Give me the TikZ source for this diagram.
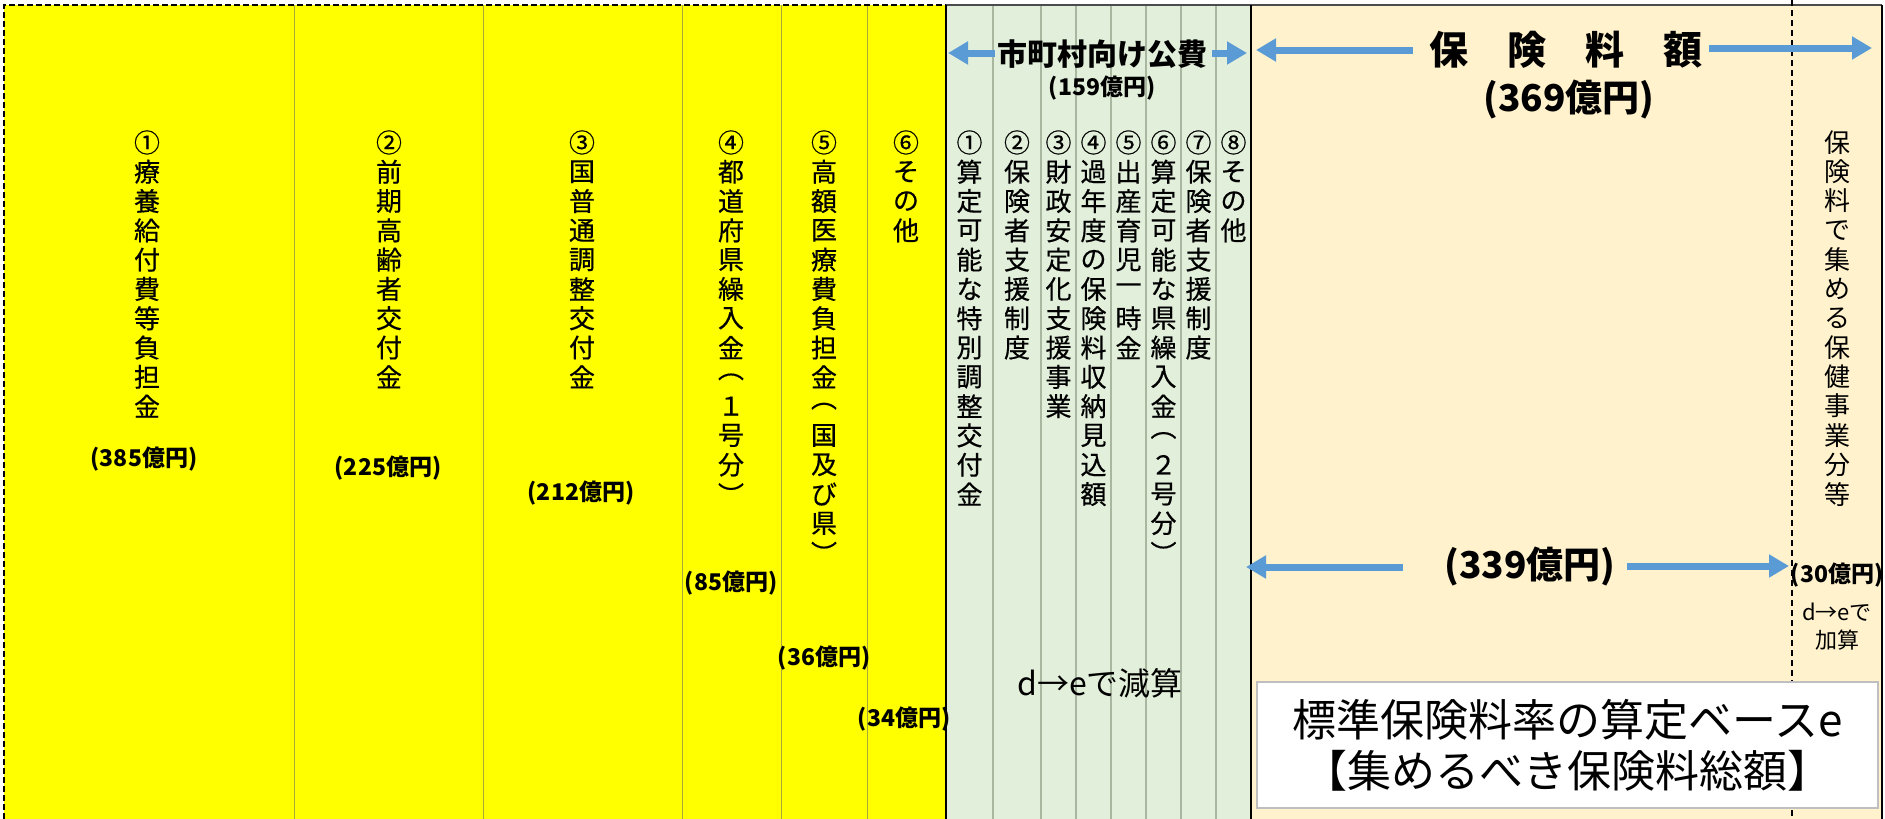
\documentclass[tikz,border=0pt]{standalone}
\usepackage{fontspec}
\setmainfont{Noto Sans CJK JP}
\newfontfamily\jpsemi{Noto Sans CJK JP}[FakeBold=0.5]
\usetikzlibrary{arrows.meta}
\definecolor{yel}{HTML}{FFFF00}
\definecolor{grn}{HTML}{E2EFDA}
\definecolor{pch}{HTML}{FFF2CC}
\definecolor{blu}{HTML}{5B9BD5}
\definecolor{ydiv}{HTML}{A8A83C}
\definecolor{gdiv}{HTML}{A9B7A1}
\definecolor{boxline}{HTML}{BFBFBF}
\makeatletter
\newdimen\vtstep \vtstep=14.65pt
\def\vt#1{\vbox{\offinterlineskip\vt@a#1\vt@end}}
\def\vt@a#1#2\vt@end{\vbox to\vtstep{\vss\hbox to 1.3em{\hss#1\hss}\vss}\ifx\relax#2\relax\else\vt@b{#2}\fi}
\def\vt@b#1\fi{\fi\vt@a#1\vt@end}
\makeatother
\tikzset{
 vcol/.style={anchor=north, inner sep=0pt, font=\fontsize{13}{15}\selectfont\jpsemi},
 vcolr/.style={anchor=north, inner sep=0pt, font=\fontsize{13}{15}\selectfont},
 amt/.style={inner sep=0pt, font=\fontsize{11.5}{13}\selectfont\bfseries},
 bigamt/.style={inner sep=0pt, font=\fontsize{18.5}{20}\selectfont\bfseries},
 barrow/.style={draw=blu, line width=3.5pt, -{Triangle[width=11pt,length=10pt]}},
 ydivider/.style={draw=ydiv, line width=0.4pt},
 gdivider/.style={draw=gdiv, line width=0.6pt},
 border/.style={draw=black, line width=1pt},
}
\begin{document}
\begin{tikzpicture}[x=0.5pt,y=-0.5pt]
\useasboundingbox (0,0) rectangle (1885,819);
% regions
\fill[yel] (4,5) rectangle (946,819);
\fill[grn] (946,5) rectangle (1251,819);
\fill[pch] (1251,5) rectangle (1882,819);
% dividers
\foreach \x in {294,483,682,781,867} \draw[ydivider] (\x,5) -- (\x,819);
\foreach \x in {993,1041,1076,1111,1146,1181,1216} \draw[gdivider] (\x,5) -- (\x,819);
% borders
\draw[draw=black!70, line width=0.8pt] (946,5) -- (1882,5);
\draw[border] (946,5) -- (946,819);
\draw[border] (1251,5) -- (1251,819);
\draw[border] (1882,5) -- (1882,819);
\draw[black, line width=0.6pt, dash pattern=on 3pt off 1.5pt] (4,819) -- (4,5) -- (946,5);
\draw[black, line width=0.6pt, dash pattern=on 3pt off 2pt] (1792,0) -- (1792,819);
% yellow column texts
\node[vcol] (y1) at (147,127.4) {\vt{①療養給付費等負担金}};
\node[vcol] (y2) at (389,127.4) {\vt{②前期高齢者交付金}};
\node[vcol] (y3) at (582,127.4) {\vt{③国普通調整交付金}};
\node[vcol] (y4) at (731,127.4) {\vt{④都道府県繰入金︵１号分︶}};
\node[vcol] (y5) at (824,127.4) {\vt{⑤高額医療費負担金︵国及び県︶}};
\node[vcol] (y6) at (906,127.4) {\vt{⑥その他}};
% amounts
\node[amt] (m1) at (144,459) {(385億円)};
\node[amt] (m2) at (388,468) {(225億円)};
\node[amt] (m3) at (581,493) {(212億円)};
\node[amt] (m4) at (731,583) {(85億円)};
\node[amt] (m5) at (824,658) {(36億円)};
\node[amt] (m6) at (904,719) {(34億円)};
% green column texts
\node[vcol] (g1) at (969.5,127.4) {\vt{①算定可能な特別調整交付金}};
\node[vcol] (g2) at (1017,127.4) {\vt{②保険者支援制度}};
\node[vcol] (g3) at (1058.5,127.4) {\vt{③財政安定化支援事業}};
\node[vcol] (g4) at (1093.5,127.4) {\vt{④過年度の保険料収納見込額}};
\node[vcol] (g5) at (1128.5,127.4) {\vt{⑤出産育児一時金}};
\node[vcol] (g6) at (1163.5,127.4) {\vt{⑥算定可能な県繰入金︵２号分︶}};
\node[vcol] (g7) at (1198.5,127.4) {\vt{⑦保険者支援制度}};
\node[vcol] (g8) at (1233.5,127.4) {\vt{⑧その他}};
% green header
\node[inner sep=0pt, font=\fontsize{15}{17}\selectfont\bfseries] (pub) at (1102,54) {市町村向け公費};
\node[amt] (m159) at (1102,88) {(159億円)};
\coordinate (pubL) at (995,53);
\coordinate (pubLe) at (948,53);
\coordinate (pubR) at (1212,53);
\coordinate (pubRe) at (1247,53);
\draw[barrow] (pubL) -- (pubLe);
\draw[barrow] (pubR) -- (pubRe);
% peach header
\node[inner sep=0pt, font=\fontsize{19.5}{21}\selectfont\bfseries] (hok) at (1566,50) {保　険　料　額};
\node[bigamt] (m369) at (1569,100) {(369億円)};
\coordinate (hokL) at (1413,50);
\coordinate (hokLe) at (1256,50);
\coordinate (hokR) at (1709,48);
\coordinate (hokRe) at (1872,48);
\draw[barrow] (hokL) -- (hokLe);
\draw[barrow] (hokR) -- (hokRe);
% 339
\node[bigamt] (m339) at (1530,567) {(339億円)};
\coordinate (b339L) at (1403,567);
\coordinate (b339Le) at (1246,567);
\coordinate (b339R) at (1627,566);
\coordinate (b339Re) at (1789,566);
\draw[barrow] (b339L) -- (b339Le);
\draw[barrow] (b339R) -- (b339Re);
% right column
\node[vcolr] (r1) at (1837,127.4) {\vt{保険料で集める保健事業分等}};
\node[amt] (m30) at (1837,575) {(30億円)};
\node[inner sep=0pt, align=center, font=\fontsize{11}{14}\selectfont] (kasan) at (1837,627) {d→eで\\加算};
% gensan
\node[inner sep=0pt, font=\fontsize{16}{18}\selectfont] (gensan) at (1100,683) {d→eで減算};
% white box
\node[draw=boxline, fill=white, line width=0.8pt, minimum width=310.5pt, minimum height=63pt, inner sep=0pt, align=center, font=\fontsize{22}{25.5}\selectfont] (base) at (1567.5,745) {標準保険料率の算定ベースe\\【集めるべき保険料総額】};
\end{tikzpicture}
\end{document}
